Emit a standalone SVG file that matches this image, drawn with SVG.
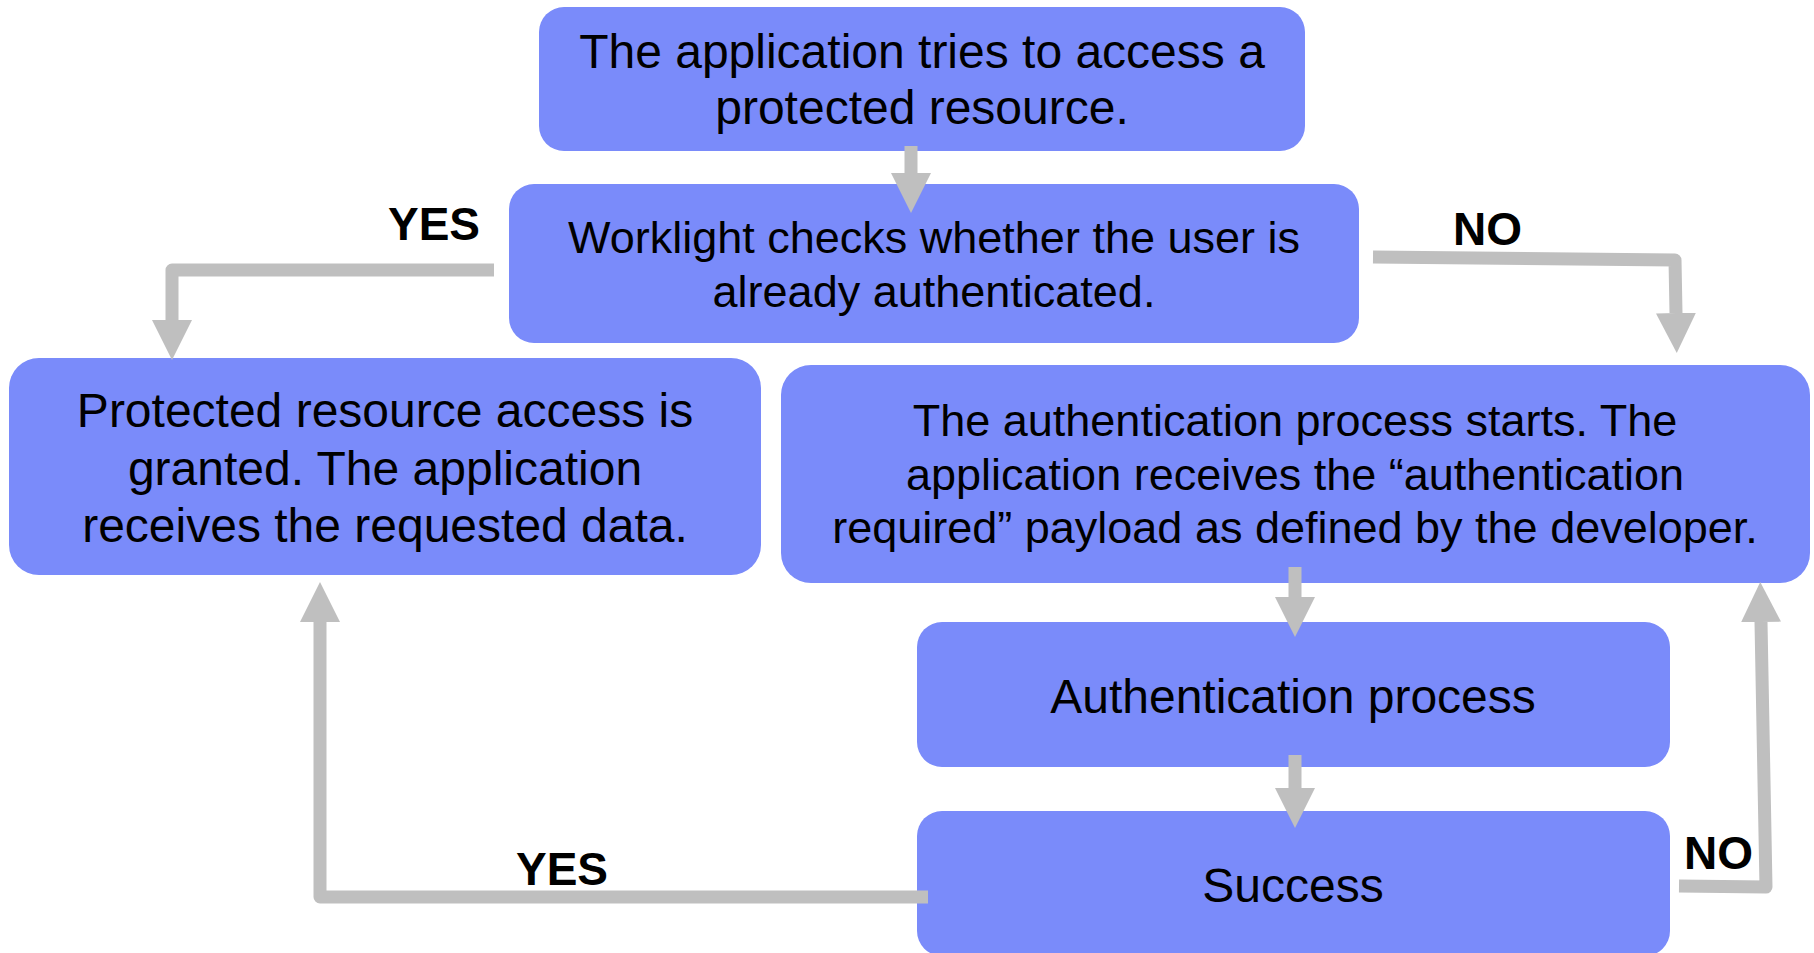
<svg xmlns="http://www.w3.org/2000/svg" width="1814" height="953" viewBox="0 0 1814 953">
  <style>
    .box { fill: #7A8BFA; }
    .t48 { font-family: "Liberation Sans", Arial, sans-serif; font-size: 48px; fill: #000; text-anchor: middle; }
    .t45 { font-family: "Liberation Sans", Arial, sans-serif; font-size: 45px; fill: #000; text-anchor: middle; }
    .lbl { font-family: "Liberation Sans", Arial, sans-serif; font-size: 46px; font-weight: bold; fill: #000; }
    .conn { fill: none; stroke: #BFBFBF; stroke-width: 13; stroke-linejoin: round; marker-end: url(#head); }
  </style>
  <defs>
    <marker id="head" viewBox="0 0 40 40" refX="0" refY="20" markerWidth="40" markerHeight="40" markerUnits="userSpaceOnUse" orient="auto">
      <path d="M0,0 L40,20 L0,40 Z" fill="#BFBFBF"/>
    </marker>
  </defs>
  <rect width="1814" height="953" fill="#FFFFFF"/>

  <g id="node-access">
    <rect class="box" x="539" y="7" width="766" height="144" rx="25" ry="25"/>
    <text class="t48" x="922" y="68">The application tries to access a</text>
    <text class="t48" x="922" y="124">protected resource.</text>
  </g>

  <g id="node-check">
    <rect class="box" x="509" y="184" width="850" height="159" rx="25" ry="25"/>
    <text class="t45" x="934" y="253">Worklight checks whether the user is</text>
    <text class="t45" x="934" y="307">already authenticated.</text>
  </g>

  <g id="node-granted">
    <rect class="box" x="9" y="358" width="752" height="217" rx="30" ry="30"/>
    <text class="t48" x="385" y="427">Protected resource access is</text>
    <text class="t48" x="385" y="485">granted. The application</text>
    <text class="t48" x="385" y="542">receives the requested data.</text>
  </g>

  <g id="node-start">
    <rect class="box" x="781" y="365" width="1029" height="218" rx="30" ry="30"/>
    <text class="t45" x="1295" y="436">The authentication process starts. The</text>
    <text class="t45" x="1295" y="490">application receives the “authentication</text>
    <text class="t45" x="1295" y="543">required” payload as defined by the developer.</text>
  </g>

  <g id="node-process">
    <rect class="box" x="917" y="622" width="753" height="145" rx="25" ry="25"/>
    <text class="t48" x="1293" y="713">Authentication process</text>
  </g>

  <g id="node-success">
    <rect class="box" x="917" y="811" width="753" height="145" rx="25" ry="25"/>
    <text class="t48" x="1293" y="902">Success</text>
  </g>

  <g id="connectors">
    <path class="conn" d="M911,146 L911,173"/>
    <path class="conn" d="M494,270 L172,270 L172,320"/>
    <path class="conn" d="M1373,257 L1675,260 L1676,313"/>
    <path class="conn" d="M1295,567 L1295,597"/>
    <path class="conn" d="M1295,755 L1295,788"/>
    <path class="conn" d="M928,897 L320,897 L320,622"/>
    <path class="conn" d="M1679,886 L1766,887 L1761,622"/>
    <text class="lbl" x="388" y="240">YES</text>
    <text class="lbl" x="1453" y="245">NO</text>
    <text class="lbl" x="516" y="885">YES</text>
    <text class="lbl" x="1684" y="869">NO</text>
  </g>
</svg>
